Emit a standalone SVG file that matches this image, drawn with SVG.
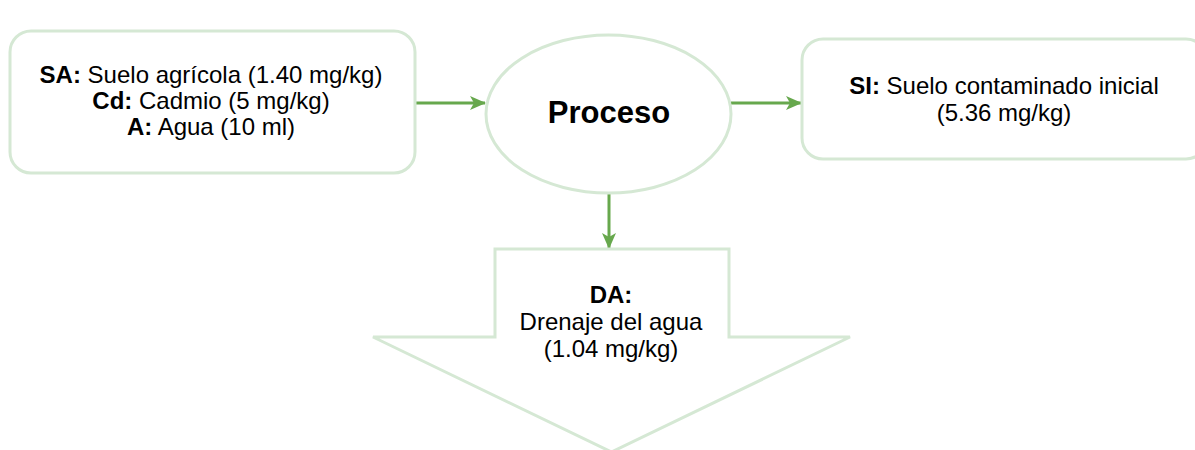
<svg xmlns="http://www.w3.org/2000/svg" width="1195" height="450" viewBox="0 0 1195 450">
  <style>
    .shape { fill: #ffffff; stroke: #d5e8d4; stroke-width: 3; }
    .edge { fill: none; stroke: #67a84d; stroke-width: 3; }
    .lbl { font-family: "Liberation Sans", Arial, sans-serif; font-size: 24px; fill: #000000; text-anchor: middle; }
    .b { font-weight: bold; }
    .title { font-family: "Liberation Sans", Arial, sans-serif; font-size: 31px; font-weight: bold; fill: #000000; text-anchor: middle; }
  </style>
  <defs>
    <marker id="arrow" viewBox="0 0 16 14" refX="15" refY="7" markerWidth="16" markerHeight="14" markerUnits="userSpaceOnUse" orient="auto">
      <path d="M0,0 L16,7 L0,14 L4,7 Z" fill="#67a84d"/>
    </marker>
  </defs>
  <rect width="1195" height="450" fill="#ffffff"/>

  <!-- connectors -->
  <g id="edges">
    <line class="edge" x1="415" y1="103" x2="485" y2="103" marker-end="url(#arrow)"/>
    <line class="edge" x1="731" y1="103" x2="801" y2="103" marker-end="url(#arrow)"/>
    <line class="edge" x1="609" y1="193" x2="609" y2="248" marker-end="url(#arrow)"/>
  </g>

  <!-- inputs -->
  <g id="node-inputs">
    <rect class="shape" x="10" y="31" width="405" height="142" rx="21" ry="21"/>
    <text class="lbl" x="211" y="83"><tspan class="b">SA:</tspan> Suelo agrícola (1.40 mg/kg)</text>
    <text class="lbl" x="211" y="109"><tspan class="b">Cd:</tspan> Cadmio (5 mg/kg)</text>
    <text class="lbl" x="211" y="135"><tspan class="b">A:</tspan> Agua (10 ml)</text>
  </g>

  <!-- process -->
  <g id="node-proceso">
    <ellipse class="shape" cx="608.5" cy="114" rx="122.5" ry="79"/>
    <text class="title" x="609" y="123">Proceso</text>
  </g>

  <!-- output soil -->
  <g id="node-suelo-inicial">
    <rect class="shape" x="802" y="39" width="405" height="120" rx="21" ry="21"/>
    <text class="lbl" x="1004" y="94"><tspan class="b">SI:</tspan> Suelo contaminado inicial</text>
    <text class="lbl" x="1004" y="121">(5.36 mg/kg)</text>
  </g>

  <!-- drainage -->
  <g id="node-drenaje">
    <path class="shape" d="M495,249 L729,249 L729,337 L850,337 L611.5,452 L373,337 L495,337 Z"/>
    <text class="lbl b" x="611" y="303">DA:</text>
    <text class="lbl" x="611" y="330">Drenaje del agua</text>
    <text class="lbl" x="611" y="357">(1.04 mg/kg)</text>
  </g>
</svg>
